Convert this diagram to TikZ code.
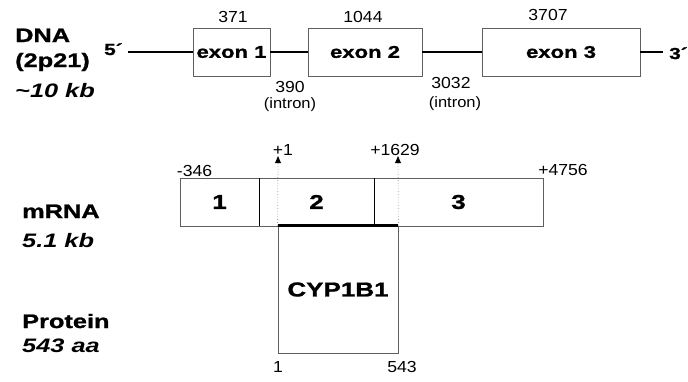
\documentclass[tikz,border=0pt]{standalone}
\usepackage{fontspec}
\setmainfont{Liberation Sans}
\newfontfamily\widesf[FakeStretch=1.3, BoldFeatures={FakeBold=1.2}]{Liberation Sans}
\newfontfamily\numsf[FakeStretch=1.1]{Liberation Sans}
\usetikzlibrary{positioning, arrows.meta}
\definecolor{BoxGray}{RGB}{95, 95, 95}
\definecolor{GuideGray}{RGB}{165, 165, 165}

\begin{document}
\begin{tikzpicture}[
    x=1pt, y=-1pt,
    title/.style={anchor=base west, inner sep=0pt, font=\widesf\bfseries\fontsize{19.5}{22}\selectfont},
    subtitle/.style={anchor=base west, inner sep=0pt, font=\widesf\bfseries\itshape\fontsize{19.5}{22}\selectfont},
    exon/.style={draw=BoxGray, line width=0.8pt, minimum height=48pt, inner sep=0pt, font=\widesf\bfseries\fontsize{17}{19}\selectfont},
    seg/.style={draw=BoxGray, line width=0.8pt, minimum height=48pt, inner sep=0pt, font=\widesf\bfseries\fontsize{20}{22}\selectfont},
    protbox/.style={draw=BoxGray, line width=0.8pt, minimum width=120pt, minimum height=127pt, inner sep=0pt, font=\widesf\bfseries\fontsize{20}{22}\selectfont},
    num/.style={inner sep=0pt, font=\numsf\fontsize{16}{18}\selectfont},
    intron/.style={inner sep=0pt, font=\numsf\fontsize{15}{17}\selectfont},
    prime/.style={inner sep=0pt, anchor=base west, font=\widesf\bfseries\fontsize{16}{18}\selectfont},
    dnaline/.style={line width=2.2pt},
    guide/.style={dotted, GuideGray, line width=0.8pt},
    tiptri/.style={fill=black}
  ]
    \useasboundingbox (0,0) rectangle (688,381);

    % Row labels
    \node[title] (dna) at (15,42) {DNA};
    \node[title] (band) at (15,67) {(2p21)};
    \node[subtitle] (dnasize) at (15,97) {\textasciitilde10 kb};
    \node[title] (mrna) at (22,218) {mRNA};
    \node[subtitle] (mrnasize) at (22,247) {5.1 kb};
    \node[title] (prot) at (22,328) {Protein};
    \node[subtitle] (protsize) at (22,352) {543 aa};

    % Gene with exons
    \node[prime] (five) at (104,55) {5´};
    \node[prime] (three) at (669,59) {3´};
    \coordinate (l5) at (128,52);
    \coordinate (l3) at (663,52);
    \node[exon, minimum width=77pt] (ex1) at (231.5,52) {exon 1};
    \node[exon, minimum width=114pt] (ex2) at (365,52) {exon 2};
    \node[exon, minimum width=158pt] (ex3) at (561,52) {exon 3};
    \draw[dnaline] (l5) -- (ex1.west);
    \draw[dnaline] (ex1.east) -- (ex2.west);
    \draw[dnaline] (ex2.east) -- (ex3.west);
    \draw[dnaline] (ex3.east) -- (l3);

    % Sizes
    \node[num] (len1) at (233,17) {371};
    \node[num] (len2) at (363,17) {1044};
    \node[num] (len3) at (548,15) {3707};
    \node[num] (int1) at (290,87) {390};
    \node[intron] (int1t) at (290,105) {(intron)};
    \node[num] (int2) at (451,83) {3032};
    \node[intron] (int2t) at (455,104) {(intron)};

    % Transcript
    \node[seg, minimum width=79pt] (s1) at (219.5,202) {1};
    \node[seg, minimum width=115pt] (s2) at (316.5,202) {2};
    \node[seg, minimum width=169pt] (s3) at (458.5,202) {3};
    \draw[line width=0.9pt] (s1.north east) -- (s1.south east);
    \draw[line width=0.9pt] (s2.north east) -- (s2.south east);

    % Coding region and protein
    \node[protbox] (cyp) at (338,289.5) {CYP1B1};
    \coordinate (start) at (278,156);
    \coordinate (stop) at (398,156);
    \draw[guide] (cyp.north west) -- (start);
    \draw[guide] (cyp.north east) -- (stop);
    \fill[tiptri] (start) -- (275,163) -- (281,163) -- cycle;
    \fill[tiptri] (stop) -- (395,163) -- (401,163) -- cycle;
    \draw[line width=3pt] (cyp.north west) -- (cyp.north east);

    % Positions
    \node[num] (pm346) at (194.5,171) {-346};
    \node[num] (pp1) at (283,150) {+1};
    \node[num] (pp1629) at (395,150) {+1629};
    \node[num] (pp4756) at (563,170) {+4756};
    \node[num] (aa1) at (278,367) {1};
    \node[num] (aa543) at (402,367) {543};
  \end{tikzpicture}
\end{document}
